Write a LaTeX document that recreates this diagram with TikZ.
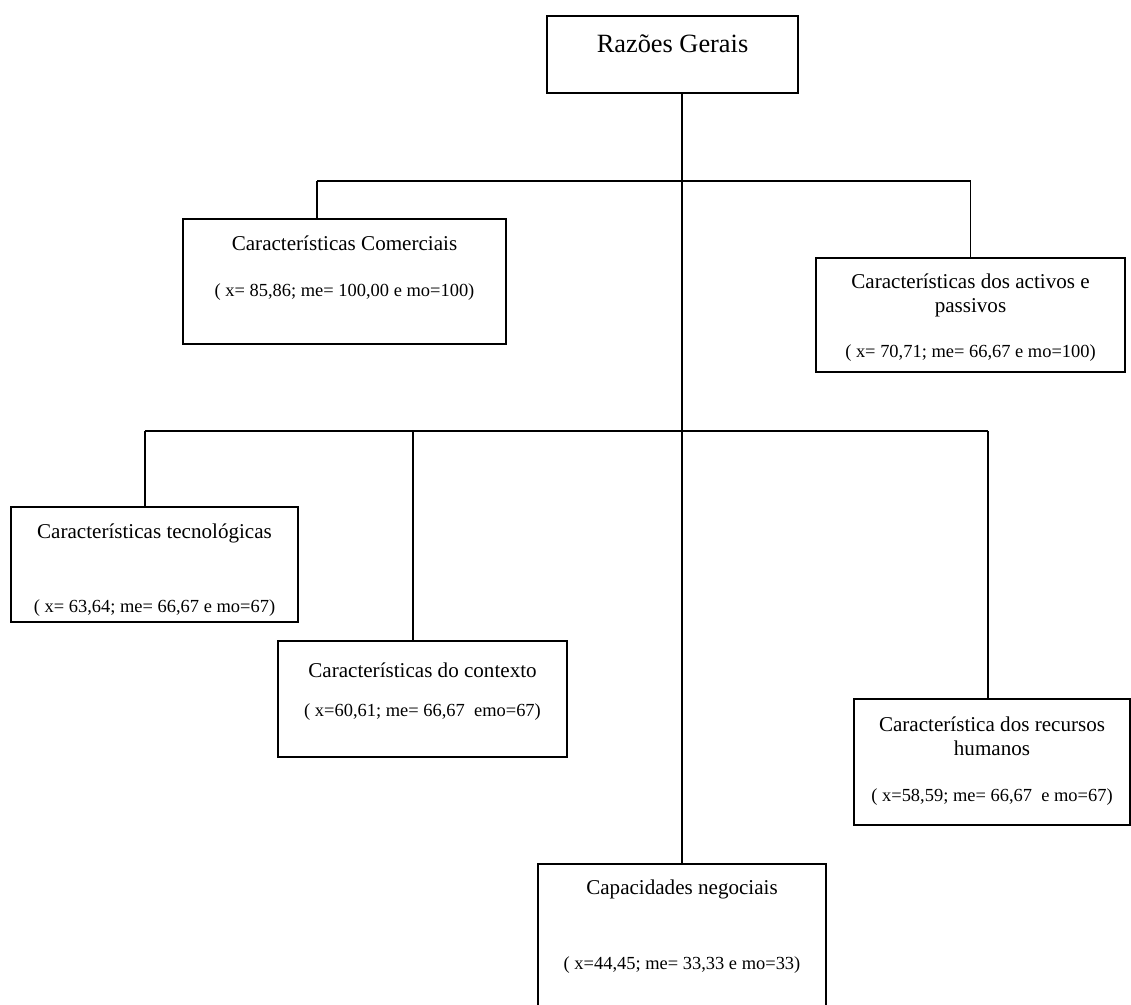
\documentclass[tikz,border=0pt]{standalone}
\usepackage{fontspec}
\setmainfont{Liberation Serif}
\usepackage{tikz}
\usetikzlibrary{positioning, calc}

\begin{document}
\begin{tikzpicture}[x=0.02cm, y=-0.02cm]
\tikzset{every node/.style={inner sep=0mm, outer sep=0mm}}

\tikzstyle{reason box}=[rectangle, draw=black, fill=white, line width=0.8pt]
\tikzstyle{head text}=[font=\fontsize{15}{18}\selectfont]
\tikzstyle{reason text}=[align=center, font=\fontsize{12}{13.6}\selectfont]
\tikzstyle{stats text}=[font=\fontsize{10.5}{12.6}\selectfont]
\tikzstyle{branch}=[line width=0.7pt]

\useasboundingbox (0,0) rectangle (1131,1004);
\clip (0,0) rectangle (1131,1004);

% boxes
\node[reason box, minimum width=5.02cm, minimum height=1.54cm] (geral) at (672.5,54.5) {};
\node[reason box, minimum width=6.46cm, minimum height=2.50cm] (comerc) at (344.5,281.5) {};
\node[reason box, minimum width=6.18cm, minimum height=2.28cm] (activos) at (970.5,315) {};
\node[reason box, minimum width=5.74cm, minimum height=2.30cm] (tecno) at (154.5,564.5) {};
\node[reason box, minimum width=5.78cm, minimum height=2.32cm] (contexto) at (422.5,699) {};
\node[reason box, minimum width=5.52cm, minimum height=2.52cm] (recursos) at (992,762) {};
\node[reason box, minimum width=5.76cm, minimum height=2.96cm] (capac) at (682,938) {};

% texts
\node[head text] (geral text) at (672.5,44) {Razões Gerais};

\node[reason text] (comerc name) at (344.5,243) {Características Comerciais};
\node[stats text] (comerc stats) at (344.5,292) {( x= 85,86; me= 100,00 e mo=100)};

\node[reason text] (activos name) at (970.5,295) {Características dos activos e\\passivos};
\node[stats text] (activos stats) at (970.5,353) {( x= 70,71; me= 66,67 e mo=100)};

\node[reason text] (tecno name) at (154.5,533) {Características tecnológicas};
\node[stats text] (tecno stats) at (154.5,608) {( x= 63,64; me= 66,67 e mo=67)};

\node[reason text] (contexto name) at (422.5,670) {Características do contexto};
\node[stats text] (contexto stats) at (422.5,712) {( x=60,61; me= 66,67~ emo=67)};

\node[reason text] (recursos name) at (992,736) {Característica dos recursos\\humanos};
\node[stats text] (recursos stats) at (992,797) {( x=58,59; me= 66,67~ e mo=67)};

\node[reason text] (capac name) at (682,889) {Capacidades negociais};
\node[stats text] (capac stats) at (682,965) {( x=44,45; me= 33,33 e mo=33)};

% forks
\coordinate (fork comerc) at (317,181);
\coordinate (fork activos) at (activos.north |- fork comerc);
\coordinate (fork tecno) at (145,431);
\coordinate (fork contexto) at (413,431);
\coordinate (fork recursos) at (988,431);

\draw[branch] (capac.north |- geral.south) -- (capac.north);

\draw[branch] (fork comerc) -- (fork activos);
\draw[branch] (fork comerc) -- (fork comerc |- comerc.north);
\draw[branch] (fork activos) -- (activos.north);

\draw[branch] (fork tecno) -- (fork recursos);
\draw[branch] (fork tecno) -- (fork tecno |- tecno.north);
\draw[branch] (fork contexto) -- (fork contexto |- contexto.north);
\draw[branch] (fork recursos) -- (fork recursos |- recursos.north);

\end{tikzpicture}
\end{document}
